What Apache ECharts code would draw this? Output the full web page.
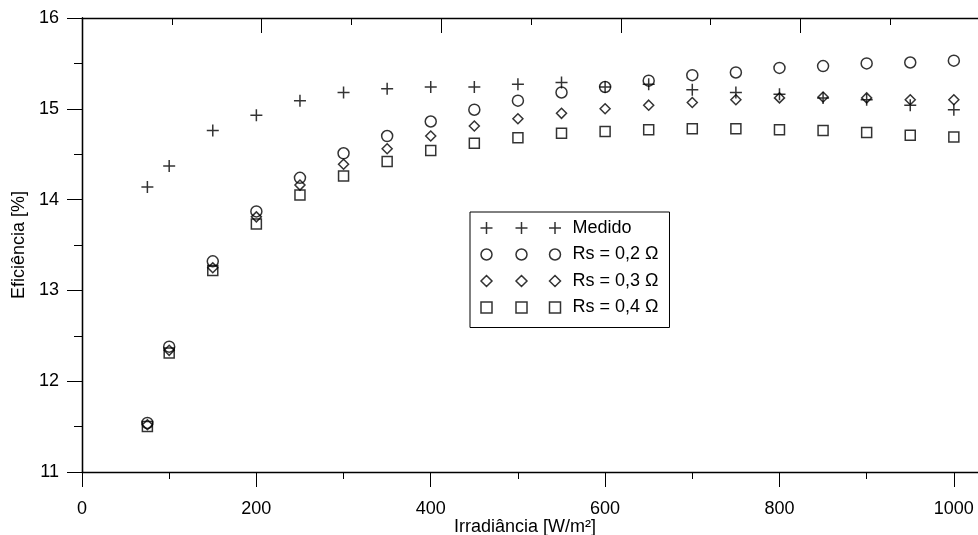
<!DOCTYPE html>
<html>
<head>
<meta charset="utf-8">
<script src="https://cdn.jsdelivr.net/npm/echarts@6/dist/echarts.min.js"></script>
<style>html,body{margin:0;padding:0;background:#fff}#c{width:978px;height:535px}</style>
</head>
<body>
<div id="c"></div>
<script>
var irradiance = [75,100,150,200,250,300,350,400,450,500,550,600,650,700,750,800,850,900,950,1000];
var medido = [14.14,14.37,14.76,14.93,15.09,15.18,15.22,15.24,15.24,15.27,15.29,15.24,15.27,15.21,15.18,15.16,15.12,15.10,15.04,14.99];
var rs02 = [11.54,12.38,13.32,13.87,14.24,14.51,14.70,14.86,14.99,15.09,15.18,15.24,15.31,15.37,15.40,15.45,15.47,15.50,15.51,15.53];
var rs03 = [11.52,12.34,13.25,13.81,14.16,14.39,14.56,14.70,14.81,14.89,14.95,15.00,15.04,15.07,15.10,15.12,15.13,15.12,15.10,15.10];
var rs04 = [11.50,12.31,13.22,13.73,14.05,14.26,14.42,14.54,14.62,14.68,14.73,14.75,14.77,14.78,14.78,14.77,14.76,14.74,14.71,14.69];
var seriesNames = ['Medido','Rs = 0,2 \u03A9','Rs = 0,3 \u03A9','Rs = 0,4 \u03A9'];
var xName = 'Irradiância [W/m²]';
var yName = 'Eficiência [%]';
var xRange = [0, 1030];
var xTopRange = [0, 1000];
var yRange = [11, 16];

var FONT = 'Liberation Sans, Arial, Helvetica, sans-serif';
function pairs(ys){ return irradiance.map(function(x,i){ return [x, ys[i]]; }); }

var plusPath = 'path://M0,6L12,6M6,0L6,12';
var corners = 'M0,0M87,18';
var legPlus = 'path://' + corners + 'M0,9L12,9M6,3L6,15M35,9L47,9M41,3L41,15M68.5,9L80.5,9M74.5,3L74.5,15';
function circ(cx){ return 'M'+(cx-5.5)+',9a5.5,5.5 0 1,0 11,0a5.5,5.5 0 1,0 -11,0'; }
var legCirc = 'path://' + corners + circ(6) + circ(41) + circ(74.5);
function diam(cx){ return 'M'+cx+',3.5L'+(cx+5.5)+',9L'+cx+',14.5L'+(cx-5.5)+',9Z'; }
var legDiam = 'path://' + corners + diam(6) + diam(41) + diam(74.5);
function sq(cx){ return 'M'+(cx-5.5)+',3.5L'+(cx+5.5)+',3.5L'+(cx+5.5)+',14.5L'+(cx-5.5)+',14.5Z'; }
var legSq = 'path://' + corners + sq(6) + sq(41) + sq(74.5);

var markStyle = {color: 'none', borderColor: '#000', borderWidth: 1.5};
var lineStyle = {color: '#000', width: 1.3};
var chart = echarts.init(document.getElementById('c'), null, {renderer: 'canvas'});
chart.setOption({
  animation: false,
  backgroundColor: '#fff',
  textStyle: {fontFamily: FONT},
  grid: {left: 82, right: -2, top: 18, bottom: 63, outerBoundsMode: 'none', containLabel: false},
  legend: {
    orient: 'vertical', left: 470, top: 212,
    itemWidth: 87, itemHeight: 18, itemGap: 3.5,
    padding: [4.5, 11, 8.5, 8],
    borderColor: '#000', borderWidth: 1, backgroundColor: '#fff',
    selectedMode: false,
    itemStyle: {color: 'none', borderColor: '#000', borderWidth: 1.5},
    textStyle: {fontSize: 18, color: '#000', fontFamily: FONT},
    data: [
      {name: seriesNames[0], icon: legPlus},
      {name: seriesNames[1], icon: legCirc},
      {name: seriesNames[2], icon: legDiam},
      {name: seriesNames[3], icon: legSq}
    ]
  },
  xAxis: [
    {
      type: 'value', position: 'bottom', min: xRange[0], max: xRange[1], interval: 100,
      name: xName, nameLocation: 'middle', nameGap: 46, nameMoveOverlap: false,
      nameTextStyle: {fontSize: 18, color: '#000', fontFamily: FONT, padding: [0, 12, 0, 0]},
      axisLine: {show: true, lineStyle: lineStyle},
      axisTick: {show: true, inside: false, length: 7, lineStyle: {color: '#000', width: 1}},
      axisLabel: {show: true, margin: 28, fontSize: 18, color: '#000', fontFamily: FONT, showMaxLabel: false,
        formatter: function(v){ return v % 200 === 0 ? String(v) : ''; }},
      splitLine: {show: false}
    },
    {
      type: 'value', position: 'bottom', min: xRange[0], max: xRange[1], interval: 200,
      axisLine: {show: false},
      axisTick: {show: true, inside: false, length: 15, lineStyle: {color: '#000', width: 1}},
      axisLabel: {show: false},
      splitLine: {show: false}
    },
    {
      type: 'value', position: 'top', min: xTopRange[0], max: xTopRange[1], interval: 200,
      axisLine: {show: true, lineStyle: lineStyle},
      axisTick: {show: true, inside: true, length: 15, lineStyle: {color: '#000', width: 1}},
      minorTick: {show: true, splitNumber: 2, length: 7, lineStyle: {color: '#000', width: 1}},
      axisLabel: {show: false},
      splitLine: {show: false}
    }
  ],
  yAxis: [
    {
      type: 'value', position: 'left', min: yRange[0], max: yRange[1], interval: 1,
      name: yName, nameLocation: 'middle', nameGap: 54, nameMoveOverlap: false,
      nameTextStyle: {fontSize: 18, color: '#000', fontFamily: FONT},
      axisLine: {show: true, lineStyle: lineStyle},
      axisTick: {show: true, inside: false, length: 15, lineStyle: {color: '#000', width: 1}},
      minorTick: {show: true, splitNumber: 2, length: 8, lineStyle: {color: '#000', width: 1}},
      axisLabel: {margin: 23, fontSize: 18, color: '#000', fontFamily: FONT},
      splitLine: {show: false}
    },
    {
      type: 'value', position: 'right', min: yRange[0], max: yRange[1], interval: 1,
      axisLine: {show: true, lineStyle: lineStyle},
      axisTick: {show: true, inside: true, length: 15, lineStyle: {color: '#000', width: 1}},
      minorTick: {show: true, splitNumber: 2, length: 7, lineStyle: {color: '#000', width: 1}},
      axisLabel: {show: false},
      splitLine: {show: false}
    }
  ],
  series: [
    {name: seriesNames[0], type: 'scatter', xAxisIndex: 0, yAxisIndex: 0, symbol: plusPath, symbolSize: 12, itemStyle: markStyle, data: pairs(medido)},
    {name: seriesNames[1], type: 'scatter', xAxisIndex: 0, yAxisIndex: 0, symbol: 'circle', symbolSize: 11, itemStyle: markStyle, data: pairs(rs02)},
    {name: seriesNames[2], type: 'scatter', xAxisIndex: 0, yAxisIndex: 0, symbol: 'diamond', symbolSize: 10, itemStyle: markStyle, data: pairs(rs03)},
    {name: seriesNames[3], type: 'scatter', xAxisIndex: 0, yAxisIndex: 0, symbol: 'rect', symbolSize: 10, itemStyle: markStyle, data: pairs(rs04)}
  ]
});
</script>
</body>
</html>
